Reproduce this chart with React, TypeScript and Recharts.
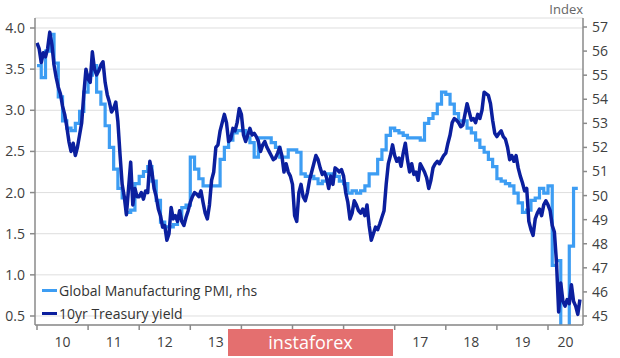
import { CartesianGrid, Legend, Line, LineChart, XAxis, YAxis } from 'recharts';

const FONT = '"Open Sans", "Noto Sans", sans-serif';
const AXIS = '#8a8a8a';
const TEXT = '#404040';
const PMI_COLOR = '#3d9df3';
const YIELD_COLOR = '#0b1f9e';

const PMI_NAME = 'Global Manufacturing PMI, rhs';
const YIELD_NAME = '10yr Treasury yield';
const legendOrder = [PMI_NAME, YIELD_NAME];

const FIRST_YEAR = 2010;
const X_MIN = 2009.961;
const X_MAX = 2020.685;

const leftTicks = [0.5, 1.0, 1.5, 2.0, 2.5, 3.0, 3.5, 4.0];
const rightTicks = [45, 46, 47, 48, 49, 50, 51, 52, 53, 54, 55, 56, 57];

// Global Manufacturing PMI, monthly (Jan..Dec), right axis
const pmi2010 = [55.4, 54.9, 56.0, 56.7, 55.5, 54.1, 53.1, 52.8, 52.7, 53.0, 53.5, 54.3];
const pmi2011 = [55.0, 55.4, 54.3, 53.8, 52.9, 52.0, 51.1, 50.3, 49.9, 49.3, 49.4, 50.5];
const pmi2012 = [50.8, 51.0, 51.2, 50.6, 49.8, 48.9, 48.7, 48.7, 48.8, 49.1, 49.5, 49.6];
const pmi2013 = [51.6, 51.1, 50.7, 50.4, 50.4, 50.4, 50.4, 51.5, 52.0, 52.3, 52.6, 52.7];
const pmi2014 = [52.7, 52.4, 52.2, 51.6, 52.4, 52.4, 52.4, 52.2, 52.0, 51.6, 51.6, 51.9];
const pmi2015 = [51.9, 51.8, 50.9, 50.8, 50.8, 50.7, 50.5, 50.6, 50.9, 50.9, 50.8, 50.6];
const pmi2016 = [50.5, 50.1, 50.2, 50.1, 50.2, 50.4, 50.9, 50.9, 51.5, 51.9, 52.5, 52.8];
const pmi2017 = [52.7, 52.6, 52.5, 52.4, 52.4, 52.4, 52.3, 53.0, 53.2, 53.4, 53.8, 54.3];
const pmi2018 = [54.2, 53.8, 53.4, 53.1, 53.1, 52.8, 52.6, 52.3, 52.0, 51.8, 51.5, 51.2];
const pmi2019 = [50.7, 50.6, 50.5, 50.4, 50.1, 49.7, 49.3, 49.4, 49.8, 49.9, 50.3, 50.1];
const pmi2020 = [50.4, 47.1, 47.3, 39.6, 42.4, 47.9, 50.3];

// 10yr Treasury yield, twice a month, left axis
const yld2010 = [3.82, 3.75, 3.58, 3.70, 3.65, 3.75, 3.95, 3.80, 3.55, 3.40, 3.28, 3.20, 3.05, 2.95, 2.80, 2.62, 2.50, 2.60, 2.45, 2.55, 2.70, 2.85, 3.20, 3.50];
const yld2011 = [3.38, 3.34, 3.71, 3.50, 3.43, 3.48, 3.55, 3.59, 3.34, 3.19, 3.10, 2.98, 3.02, 3.10, 2.86, 2.46, 2.10, 1.95, 1.73, 2.05, 2.37, 1.85, 2.05, 1.95];
const yld2012 = [1.95, 2.00, 1.92, 2.02, 2.00, 2.38, 2.25, 2.05, 1.95, 1.80, 1.72, 1.58, 1.60, 1.42, 1.50, 1.82, 1.68, 1.72, 1.65, 1.78, 1.65, 1.60, 1.70, 1.78];
const yld2013 = [1.88, 1.95, 2.00, 1.98, 1.95, 2.02, 1.88, 1.75, 1.68, 1.85, 2.15, 2.25, 2.55, 2.58, 2.75, 2.85, 2.95, 2.85, 2.62, 2.65, 2.78, 2.75, 2.85, 3.02];
const yld2014 = [2.95, 2.70, 2.62, 2.70, 2.78, 2.70, 2.72, 2.68, 2.62, 2.50, 2.58, 2.62, 2.55, 2.50, 2.45, 2.40, 2.42, 2.48, 2.55, 2.45, 2.25, 2.35, 2.25, 2.20];
const yld2015 = [2.10, 1.72, 1.65, 2.00, 2.10, 1.95, 1.90, 2.00, 2.15, 2.25, 2.35, 2.45, 2.40, 2.30, 2.22, 2.25, 2.18, 2.05, 2.20, 2.10, 2.30, 2.28, 2.25, 2.28];
const yld2016 = [2.20, 2.00, 1.88, 1.68, 1.75, 1.90, 1.85, 1.78, 1.75, 1.80, 1.72, 1.85, 1.60, 1.42, 1.50, 1.58, 1.55, 1.62, 1.70, 1.78, 2.10, 2.35, 2.45, 2.58];
const yld2017 = [2.45, 2.38, 2.42, 2.32, 2.48, 2.60, 2.40, 2.25, 2.35, 2.22, 2.25, 2.15, 2.35, 2.30, 2.25, 2.18, 2.05, 2.15, 2.30, 2.35, 2.38, 2.35, 2.40, 2.45];
const yld2018 = [2.48, 2.60, 2.70, 2.85, 2.90, 2.88, 2.85, 2.80, 2.82, 2.95, 3.08, 2.98, 2.88, 2.90, 2.85, 2.95, 2.90, 3.00, 3.22, 3.20, 3.18, 3.08, 2.88, 2.72];
const yld2019 = [2.68, 2.72, 2.75, 2.68, 2.65, 2.55, 2.40, 2.45, 2.38, 2.45, 2.30, 2.20, 2.12, 2.02, 2.05, 1.65, 1.55, 1.48, 1.68, 1.75, 1.80, 1.72, 1.85, 1.90];
const yld2020 = [1.85, 1.78, 1.60, 1.52, 1.15, 0.55, 0.90, 0.68, 0.62, 0.70, 0.65, 0.88, 0.68, 0.62, 0.52, 0.70];

const pmiYears = [pmi2010, pmi2011, pmi2012, pmi2013, pmi2014, pmi2015, pmi2016, pmi2017, pmi2018, pmi2019, pmi2020];
const yldYears = [yld2010, yld2011, yld2012, yld2013, yld2014, yld2015, yld2016, yld2017, yld2018, yld2019, yld2020];

const pmiData = pmiYears.flatMap((vals, yi) => vals.map((v, m) => ({ t: FIRST_YEAR + yi + m / 12, pmi: v })));
// close the last monthly step
const lastPmi = pmiData[pmiData.length - 1];
pmiData.push({ t: lastPmi.t + 1 / 12, pmi: lastPmi.pmi });

const yieldData = yldYears.flatMap((vals, yi) => vals.map((v, h) => ({ t: FIRST_YEAR + yi + h / 24, yld: v })));

// tick marks at year starts, labels in the middle of each year
const yearStarts = pmiYears.map((_, i) => FIRST_YEAR + i);
const yearLabels = yearStarts.map((y, i) => (i === yearStarts.length - 1 ? (y + X_MAX) / 2 : y + 0.5));
const xTicks = [...yearStarts, ...yearLabels].sort((a, b) => a - b);

function YearTick({ x, y, payload }: any) {
  const v = payload.value as number;
  if (Number.isInteger(v)) {
    return <line x1={x} x2={x} y1={y - 8} y2={y - 3} stroke={AXIS} strokeWidth={1.5} />;
  }
  return (
    <text x={x} y={y} dy={14} textAnchor="middle" fill={TEXT} fontSize={14} fontFamily={FONT}>
      {String(Math.floor(v) % 100).padStart(2, '0')}
    </text>
  );
}

function LegendBox({ payload }: any) {
  const items = [...(payload ?? [])].sort(
    (a: any, b: any) => legendOrder.indexOf(a.value) - legendOrder.indexOf(b.value),
  );
  return (
    <div style={{ fontFamily: FONT, fontSize: 14, color: '#333', lineHeight: '23px', textAlign: 'left' }}>
      {items.map((p: any) => (
        <div key={p.value} style={{ display: 'flex', alignItems: 'center', whiteSpace: 'nowrap' }}>
          <span style={{ display: 'inline-block', width: 15, height: 3, background: p.color, marginRight: 2 }} />
          {p.value}
        </div>
      ))}
    </div>
  );
}

export default function App() {
  return (
    <div style={{ position: 'absolute', left: 0, top: 0, width: 620, height: 358, background: '#fff' }}>
      <LineChart width={620} height={358} margin={{ top: 18, right: 0, bottom: 0, left: 0 }}>
        <CartesianGrid yAxisId="left" vertical={false} stroke="#dedede" strokeWidth={1} />
        <XAxis
          dataKey="t"
          type="number"
          domain={[X_MIN, X_MAX]}
          allowDataOverflow
          ticks={xTicks}
          interval={0}
          height={33}
          stroke={AXIS}
          strokeWidth={1.5}
          tickLine={false}
          tickSize={5}
          tickMargin={3}
          tick={<YearTick />}
        />
        <YAxis
          yAxisId="left"
          domain={[0.3906, 4.1215]}
          allowDataOverflow
          ticks={leftTicks}
          interval={0}
          width={35}
          stroke={AXIS}
          strokeWidth={1.5}
          tickSize={5}
          tickMargin={5}
          tickFormatter={(v: number) => v.toFixed(1)}
          tick={{ fill: TEXT, fontSize: 14, fontFamily: FONT }}
        />
        <YAxis
          yAxisId="right"
          orientation="right"
          domain={[44.626, 57.374]}
          allowDataOverflow
          ticks={rightTicks}
          interval={0}
          width={37}
          stroke={AXIS}
          strokeWidth={1.5}
          tickSize={4}
          tickMargin={5}
          tick={{ fill: TEXT, fontSize: 14, fontFamily: FONT, textAnchor: 'start' }}
        />
        <Line
          yAxisId="right"
          data={pmiData}
          dataKey="pmi"
          name={PMI_NAME}
          type="stepAfter"
          stroke={PMI_COLOR}
          strokeWidth={3.2}
          dot={false}
          isAnimationActive={false}
        />
        <Line
          yAxisId="left"
          data={yieldData}
          dataKey="yld"
          name={YIELD_NAME}
          type="linear"
          stroke={YIELD_COLOR}
          strokeWidth={3.5}
          strokeLinejoin="round"
          dot={false}
          isAnimationActive={false}
        />
        <Legend
          layout="vertical"
          align="center"
          verticalAlign="middle"
          content={<LegendBox />}
          wrapperStyle={{ left: 42, top: 279, width: 'auto' }}
        />
      </LineChart>
      <div
        style={{
          position: 'absolute',
          right: 37,
          top: 1,
          fontFamily: FONT,
          fontSize: 13,
          lineHeight: '16px',
          color: '#666',
        }}
      >
        Index
      </div>
      <div
        style={{
          position: 'absolute',
          left: 228,
          top: 329,
          width: 165,
          height: 27,
          background: '#e46f6f',
          color: '#fff',
          fontFamily: FONT,
          fontSize: 18,
          lineHeight: '27px',
          textAlign: 'center',
        }}
      >
        instaforex
      </div>
    </div>
  );
}
